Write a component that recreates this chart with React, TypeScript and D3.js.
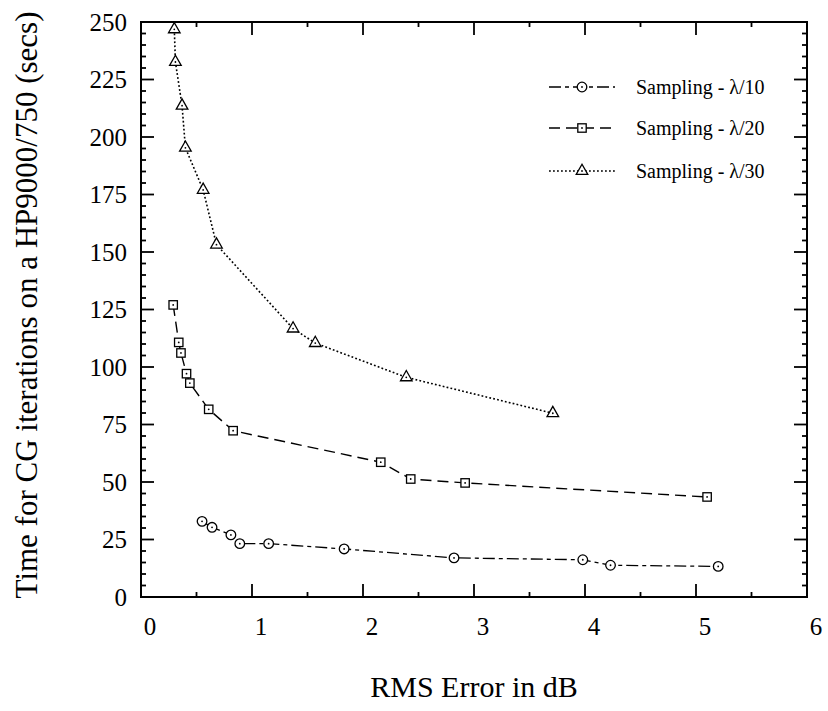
import React from "react";
import * as d3 from "d3";

// ---- data ----
const lambda10X = [0.55, 0.64, 0.81, 0.89, 1.15, 1.83, 2.82, 3.98, 4.23, 5.2];
const lambda10Y = [32.9, 30.3, 27.0, 23.2, 23.2, 20.9, 17.0, 16.2, 13.8, 13.3];

const lambda20X = [0.29, 0.34, 0.36, 0.41, 0.44, 0.61, 0.83, 2.16, 2.43, 2.92, 5.1];
const lambda20Y = [127.0, 110.7, 106.1, 97.1, 93.0, 81.6, 72.3, 58.6, 51.3, 49.6, 43.5];

const lambda30X = [0.3, 0.31, 0.37, 0.4, 0.56, 0.68, 1.37, 1.57, 2.39, 3.71];
const lambda30Y = [246.8, 232.6, 213.6, 195.3, 177.0, 153.2, 116.7, 110.4, 95.5, 79.9];

const seriesNames = ["Sampling - \u03bb/10", "Sampling - \u03bb/20", "Sampling - \u03bb/30"];
const xTickLabels = ["0", "1", "2", "3", "4", "5", "6"];
const yTickLabels = ["0", "25", "50", "75", "100", "125", "150", "175", "200", "225", "250"];
const xTitle = "RMS Error in dB";
const yTitle = "Time for CG iterations on a HP9000/750 (secs)";

const W = 828;
const H = 711;
const left = 141;
const right = 807;
const top = 22;
const bottom = 597;
const FONT = "'Liberation Serif', 'Times New Roman', serif";

const x = d3.scaleLinear().domain([0, 6]).range([left, right]);
const y = d3.scaleLinear().domain([0, 250]).range([bottom, top]);

type Pt = [number, number];
const zip = (xs: number[], ys: number[]): Pt[] => xs.map((v, i) => [v, ys[i]]);

const series = [
  { name: seriesNames[0], pts: zip(lambda10X, lambda10Y), dash: "12 4 4 4", width: 1.3, marker: "circle" },
  { name: seriesNames[1], pts: zip(lambda20X, lambda20Y), dash: "11 6", width: 1.4, marker: "square" },
  { name: seriesNames[2], pts: zip(lambda30X, lambda30Y), dash: "1.8 2.2", width: 1.6, marker: "triangle" },
];

const line = d3
  .line<Pt>()
  .x((d) => x(d[0]))
  .y((d) => y(d[1]));

function Marker({ kind, cx, cy }: { kind: string; cx: number; cy: number }) {
  const common = { fill: "#fff", stroke: "#000", strokeWidth: 1.3 };
  let shape: React.ReactNode = null;
  if (kind === "circle") shape = <circle cx={cx} cy={cy} r={4.8} {...common} />;
  else if (kind === "square") shape = <rect x={cx - 4.2} y={cy - 4.2} width={8.4} height={8.4} {...common} />;
  else
    shape = (
      <path d={`M${cx},${cy - 6.8} L${cx - 5.8},${cy + 3.4} L${cx + 5.8},${cy + 3.4} Z`} {...common} />
    );
  return (
    <g>
      {shape}
      <circle cx={cx} cy={cy} r={0.9} fill="#000" />
    </g>
  );
}

export default function App() {
  const xMajor = d3.range(0, 6.001, 1);
  const xMinor = d3.range(0.5, 6, 1);
  const yMajor = d3.range(0, 250.001, 25);
  const yMinor = d3.range(5, 250, 5).filter((v) => v % 25 !== 0);
  const MAJ = 13;
  const MIN = 5;

  const legendRows = [87, 128, 171];

  return (
    <svg
      width={W}
      height={H}
      style={{ position: "absolute", left: 0, top: 0, background: "#fff" }}
      fontFamily={FONT}
    >
      <rect x={0} y={0} width={W} height={H} fill="#fff" />
      {/* ticks */}
      <g stroke="#000" strokeWidth={1.8}>
        {xMajor.map((v) => (
          <g key={"xM" + v}>
            <line x1={x(v)} x2={x(v)} y1={bottom} y2={bottom - MAJ} />
            <line x1={x(v)} x2={x(v)} y1={top} y2={top + MAJ} />
          </g>
        ))}
        {xMinor.map((v) => (
          <g key={"xm" + v}>
            <line x1={x(v)} x2={x(v)} y1={bottom} y2={bottom - MIN} />
            <line x1={x(v)} x2={x(v)} y1={top} y2={top + MIN} />
          </g>
        ))}
        {yMajor.map((v) => (
          <g key={"yM" + v}>
            <line x1={left} x2={left + MAJ} y1={y(v)} y2={y(v)} />
            <line x1={right} x2={right - MAJ} y1={y(v)} y2={y(v)} />
          </g>
        ))}
        {yMinor.map((v) => (
          <g key={"ym" + v}>
            <line x1={left} x2={left + MIN} y1={y(v)} y2={y(v)} />
            <line x1={right} x2={right - MIN} y1={y(v)} y2={y(v)} />
          </g>
        ))}
      </g>
      <rect x={left} y={top} width={right - left} height={bottom - top} fill="none" stroke="#000" strokeWidth={2} />

      {/* tick labels */}
      <g fontSize={25} fill="#000">
        {xMajor.map((v, i) => (
          <text key={"xl" + v} x={x(v) + 9} y={635} textAnchor="middle">
            {xTickLabels[i]}
          </text>
        ))}
        {yMajor.map((v, i) => (
          <text key={"yl" + v} x={127} y={y(v) + 8.5} textAnchor="end">
            {yTickLabels[i]}
          </text>
        ))}
      </g>

      {/* axis titles */}
      <text x={474} y={697} textAnchor="middle" fontSize={30}>
        {xTitle}
      </text>
      <text transform={`translate(37, 305) rotate(-90)`} textAnchor="middle" fontSize={31}>
        {yTitle}
      </text>

      {/* series */}
      {series.map((s) => (
        <g key={s.name}>
          <path d={line(s.pts) || ""} fill="none" stroke="#000" strokeWidth={s.width} strokeDasharray={s.dash} />
          {s.pts.map((p, i) => (
            <Marker key={i} kind={s.marker} cx={x(p[0])} cy={y(p[1])} />
          ))}
        </g>
      ))}

      {/* legend */}
      {series.map((s, i) => {
        const ly = legendRows[i];
        return (
          <g key={"lg" + i}>
            <line x1={549} x2={615} y1={ly} y2={ly} stroke="#000" strokeWidth={s.width} strokeDasharray={s.dash} />
            <Marker kind={s.marker} cx={582} cy={ly} />
            <text x={636} y={ly + 7} fontSize={20}>
              {s.name}
            </text>
          </g>
        );
      })}
    </svg>
  );
}
